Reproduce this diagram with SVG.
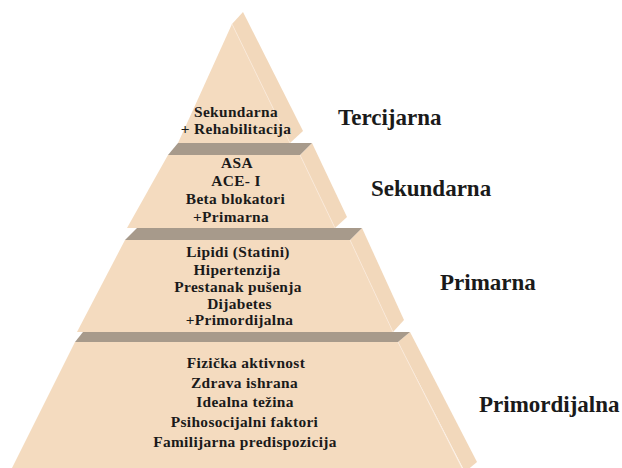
<svg xmlns="http://www.w3.org/2000/svg" width="622" height="468" viewBox="0 0 622 468">
  <style>
    .front { fill: #F4DBBF; }
    .side { fill: #F2D8BB; }
    .top { fill: #A79A8B; }
    .seam { stroke: #FAEADB; stroke-width: 0.8; fill: none; }
    .t { font-family: "Liberation Serif", "Times New Roman", serif; font-weight: bold; font-size: 15.4px; letter-spacing: 0.35px; fill: #1a1a1a; text-anchor: middle; }
    .lbl { font-family: "Liberation Serif", "Times New Roman", serif; font-weight: bold; font-size: 23px; fill: #1a1a1a; }
  </style>
  <rect width="622" height="468" fill="#ffffff"/>

  <g id="tier-tercijarna">
    <polygon class="front" points="232,24 178,143 290,143"/>
    <polygon class="side" points="232,24 243,12 303,131 290,143"/>
    <line class="seam" x1="232" y1="24" x2="290" y2="143"/>
    <text class="t" x="236" y="117">Sekundarna</text>
    <text class="t" x="236" y="134">+ Rehabilitacija</text>
  </g>

  <g id="tier-sekundarna">
    <polygon class="front" points="168,155 300,155 335,228 127,228"/>
    <polygon class="side" points="300,155 312,143 347,217 335,228"/>
    <line class="seam" x1="300" y1="155" x2="335" y2="228"/>
    <polygon class="top" points="178,143 312,143 300,155 168,155"/>
    <text class="t" x="237" y="168">ASA</text>
    <text class="t" x="236" y="186">ACE- I</text>
    <text class="t" x="235.5" y="204">Beta blokatori</text>
    <text class="t" x="231" y="222">+Primarna</text>
  </g>

  <g id="tier-primarna">
    <polygon class="front" points="125,240 350,240 393,332 77,332"/>
    <polygon class="side" points="350,240 362,228 404,320 393,332"/>
    <line class="seam" x1="350" y1="240" x2="393" y2="332"/>
    <polygon class="top" points="137,228 362,228 350,240 125,240"/>
    <text class="t" x="238" y="257">Lipidi (Statini)</text>
    <text class="t" x="237" y="275">Hipertenzija</text>
    <text class="t" x="238" y="292">Prestanak pušenja</text>
    <text class="t" x="239.5" y="309">Dijabetes</text>
    <text class="t" x="239.5" y="325">+Primordijalna</text>
  </g>

  <g id="tier-primordijalna">
    <polygon class="front" points="75,342 398,342 464,472 10,472"/>
    <polygon class="side" points="398,342 410,332 477,462 465,472"/>
    <line class="seam" x1="398" y1="342" x2="464" y2="472"/>
    <polygon class="top" points="83,332 410,332 398,342 75,342"/>
    <text class="t" x="246" y="368">Fizička aktivnost</text>
    <text class="t" x="244.5" y="388">Zdrava ishrana</text>
    <text class="t" x="245" y="407">Idealna težina</text>
    <text class="t" x="244.5" y="427">Psihosocijalni faktori</text>
    <text class="t" x="245" y="447">Familijarna predispozicija</text>
  </g>

  <g id="labels">
    <text class="lbl" x="338" y="125">Tercijarna</text>
    <text class="lbl" x="371" y="196">Sekundarna</text>
    <text class="lbl" x="440" y="290">Primarna</text>
    <text class="lbl" x="479" y="412">Primordijalna</text>
  </g>
</svg>
